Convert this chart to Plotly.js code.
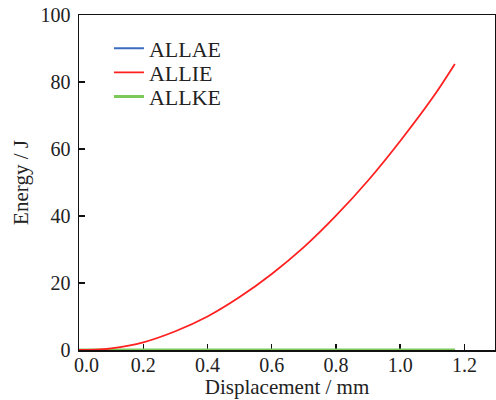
<!DOCTYPE html>
<html>
<head>
<meta charset="utf-8">
<script src="https://cdn.plot.ly/plotly-3.0.1.min.js"></script>
<style>html,body{margin:0;padding:0;background:#fff;}#chart{width:496px;height:400px;}</style>
</head>
<body>
<div id="chart"></div>
<script>
const displacement = [0, 0.05, 0.1, 0.2, 0.3, 0.4, 0.5, 0.6, 0.7, 0.8, 0.9, 1.0, 1.1, 1.17];
const allie = [0, 0.1, 0.5, 2.3, 5.6, 10.0, 15.8, 22.7, 30.7, 40.1, 50.6, 62.4, 75.2, 85.4];
const allae = [0, 0, 0, 0, 0, 0, 0, 0, 0, 0, 0, 0, 0, 0];
const allke = [0, 0, 0, 0, 0, 0, 0, 0, 0, 0, 0, 0, 0, 0];
const xTicks = [0, 0.2, 0.4, 0.6, 0.8, 1.0, 1.2];
const xTickLabels = ['\u00a0\u00a0\u00a00.0', '0.2', '0.4', '0.6', '0.8', '1.0', '1.2'];
const yTicks = [0, 20, 40, 60, 80, 100];

const fam = 'Liberation Serif, Times New Roman, serif';
const tickFont = {family: fam, size: 20, color: '#222'};
const titleFont = {family: fam, size: 21, color: '#222'};
const legFont = {family: fam, size: 22, color: '#222'};

const traces = [
  {x: displacement, y: allae, name: 'ALLAE', legend: 'legend', mode: 'lines', line: {color: '#3b6cc0', width: 2}},
  {x: displacement, y: allke, name: 'ALLKE', legend: 'legend3', mode: 'lines', line: {color: '#7cc95a', width: 3}},
  {x: displacement, y: allie, name: 'ALLIE', legend: 'legend2', mode: 'lines', line: {color: '#ff2020', width: 1.8, shape: 'spline'}}
];

function leg(y) {
  return {x: 0.072, y: y, xanchor: 'left', yanchor: 'middle', bgcolor: 'rgba(0,0,0,0)',
          font: legFont, itemwidth: 30};
}

const layout = {
  width: 496, height: 400,
  margin: {l: 79, r: 1, t: 15, b: 50},
  paper_bgcolor: '#fff', plot_bgcolor: '#fff',
  font: tickFont,
  showlegend: true,
  legend: leg(0.900),
  legend2: leg(0.828),
  legend3: leg(0.756),
  xaxis: {
    range: [0, 1.295], tickvals: xTicks, ticktext: xTickLabels,
    ticks: 'inside', ticklen: 6, tickwidth: 1.5, tickcolor: '#111',
    showline: true, linecolor: '#111', linewidth: 1.5, mirror: true,
    showgrid: false, zeroline: false, layer: 'below traces',
    ticklabelstandoff: -4,
    title: {text: 'Displacement / mm', font: titleFont, standoff: 4},
    tickfont: tickFont
  },
  yaxis: {
    range: [0, 100], tickvals: yTicks,
    ticks: 'inside', ticklen: 6, tickwidth: 1.5, tickcolor: '#111',
    showline: true, linecolor: '#111', linewidth: 1.5, mirror: true,
    showgrid: false, zeroline: false, layer: 'below traces',
    ticklabelstandoff: 3,
    title: {text: 'Energy / J', font: titleFont, standoff: 6},
    tickfont: tickFont
  }
};

Plotly.newPlot('chart', traces, layout, {displayModeBar: false, staticPlot: true});
</script>
</body>
</html>
